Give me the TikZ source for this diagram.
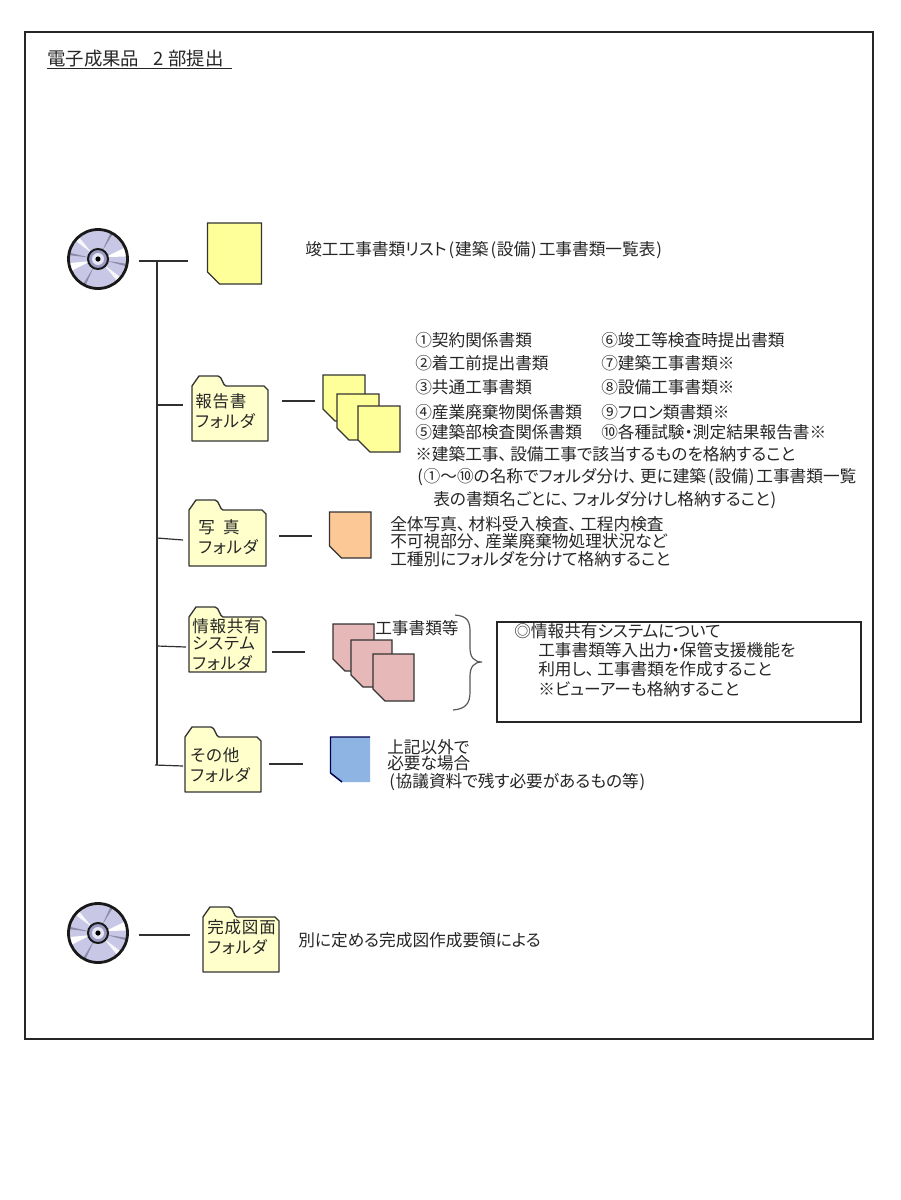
\documentclass[tikz,border=0pt]{standalone}
\usepackage{fontspec}
\setmainfont{Noto Sans CJK JP}[RawFeature=+palt]
\definecolor{docyellow}{HTML}{FFFF99}
\definecolor{folderyellow}{HTML}{FFFFCC}
\definecolor{docorange}{HTML}{FCC896}
\definecolor{docpink}{HTML}{E6B9B8}
\definecolor{docblue}{HTML}{8EB4E3}
\definecolor{discfill}{HTML}{C8C8E6}
\definecolor{hubfill}{HTML}{9C9CC4}
\definecolor{wedgegray}{HTML}{8C8CA8}
\definecolor{linegray}{HTML}{303030}
\newcommand{\tc}{、\hspace{0.2em}}
\newcommand{\lp}{\hspace{0.12em}(\hspace{0.05em}}
\newcommand{\rp}{\hspace{0.05em})\hspace{0.12em}}
\tikzset{
  x=0.75pt,y=-0.75pt,
  conn/.style={draw=linegray,line width=0.9pt},
  docshape/.style={draw=black!80,line width=1pt},
  lbl/.style={inner sep=0pt,anchor=west,font=\fontsize{12.5}{14}\selectfont,text=black!85},
  ftext/.style={inner sep=0pt,anchor=west,font=\fontsize{12.4}{14}\selectfont\addfontfeature{LetterSpace=5},text=black!85},
}
% \docsheet{name}{x0}{y0}{x1}{y1}{colour}
\newcommand{\docsheet}[6]{%
  \draw[docshape,fill=#6] (#2,#3) -- (#4,#3) -- (#4,#5) -- (#2+12,#5) -- (#2,#5-12) -- cycle;
  \coordinate (#1) at ({(#2+#4)/2},{(#3+#5)/2});
}
% \folderbox{name}{x0}{top}{x1}{bottom}
\newcommand{\folderbox}[5]{%
  \draw[docshape,fill=folderyellow,line join=round] (#2,#5) -- (#2,#3+10) -- (#2+7,#3) -- (#2+26,#3)
    .. controls (#2+30,#3) and (#2+31,#3+10) .. (#2+34,#3+10) -- (#4-4,#3+10) -- (#4,#3+14) -- (#4,#5) -- cycle;
  \coordinate (#1) at ({(#2+#4)/2},{(#3+#5)/2});
}
% one tapered wedge of the disc: {angle}{cx}{cy}{colour}{half width}
\newcommand{\discwedge}[5]{%
  \fill[#4] (#2,#3) +({#1-#5*0.3}:10*0.75pt) -- +({#1+#5*0.3}:10*0.75pt)
     -- +({#1+#5}:29.5*0.75pt) -- +({#1-#5}:29.5*0.75pt) -- cycle;
}
% \discicon{name}{cx}{cy}
\newcommand{\discicon}[3]{%
  \fill[discfill] (#2,#3) circle[radius=30*0.75pt];
  \discwedge{14}{#2}{#3}{white}{9}
  \discwedge{196}{#2}{#3}{white}{8}
  \discwedge{136}{#2}{#3}{white!85!discfill}{5}
  \discwedge{-44}{#2}{#3}{white!85!discfill}{5}
  \discwedge{62}{#2}{#3}{wedgegray}{2.5}
  \discwedge{170}{#2}{#3}{wedgegray}{2.5}
  \discwedge{-12}{#2}{#3}{wedgegray}{2.5}
  \discwedge{-118}{#2}{#3}{wedgegray}{2.5}
  \node[circle,draw=black!90,line width=2.1pt,minimum size=59*0.75pt,inner sep=0pt] (#1) at (#2,#3) {};
  \draw[black!90,line width=1.5pt,fill=hubfill] (#2,#3) circle[radius=10*0.75pt];
  \fill[white!55!discfill] (#2,#3) circle[radius=6*0.75pt];
  \fill[black] (#2,#3) circle[radius=2.6*0.75pt];
}
\begin{document}
\begin{tikzpicture}
\useasboundingbox (0,0) rectangle (900,1200);
\fill[white] (0,0) rectangle (900,1200);
\draw[black!85,line width=0.9pt] (25,32) rectangle (873,1039);

% title
\node[lbl,font=\fontsize{13.8}{15}\selectfont] (title) at (47,59) {電子成果品};
\node[lbl,font=\fontsize{13.8}{15}\selectfont] (titleB) at (153,59) {2};
\node[lbl,font=\fontsize{13.8}{15}\selectfont] (titleC) at (168,59) {部提出};
\draw[black!85,line width=1pt] (47,68.5) -- (232,68.5);

% discs
\discicon{discA}{98}{259}
\discicon{discB}{98}{933}

% documents
\docsheet{docList}{207.5}{223}{261.5}{284}{docyellow}
\docsheet{docRepA}{323}{375}{365}{421}{docyellow}
\docsheet{docRepB}{337}{394}{379}{440}{docyellow}
\docsheet{docRepC}{358}{406}{400}{452}{docyellow}
\docsheet{docPhoto}{329.5}{512}{371}{558}{docorange}
\docsheet{docInfoA}{333}{624}{374}{671}{docpink}
\docsheet{docInfoB}{351}{640}{392}{687}{docpink}
\docsheet{docInfoC}{373}{654}{414}{701}{docpink}
% blue sheet: only the left and top edges are dark
\fill[docblue] (330.5,737) -- (370,737) -- (370,782) -- (342,782) -- (330.5,773) -- cycle;
\draw[black!70!blue,line width=1.1pt] (370,737) -- (330.5,737) -- (330.5,773) -- (342,782);
\coordinate (docOther) at (350,760);

% folders
\folderbox{fldReport}{192}{376}{268}{441}
\folderbox{fldPhoto}{189}{500}{266}{566}
\folderbox{fldInfo}{189}{607}{266}{672}
\folderbox{fldOther}{185}{727}{261}{792}
\folderbox{fldDraw}{203}{907}{279}{972}

% folder labels
\node[ftext] (tReportA) at (195,401) {報告書};
\node[ftext] (tReportB) at (195,421) {フォルダ};
\node[ftext] (tPhotoA) at (198,527) {写\hspace{0.5em}真};
\node[ftext] (tPhotoB) at (198,547) {フォルダ};
\node[ftext] (tInfoA) at (192,626) {情報共有};
\node[ftext] (tInfoB) at (192,644) {システム};
\node[ftext] (tInfoC) at (192,663) {フォルダ};
\node[ftext] (tOtherA) at (190,755) {その他};
\node[ftext] (tOtherB) at (190,775) {フォルダ};
\node[ftext] (tDrawA) at (207,927) {完成図面};
\node[ftext] (tDrawB) at (207,947) {フォルダ};

% tree connectors
\coordinate (jA) at (157,261);
\coordinate (jB) at (157,405);
\coordinate (jC) at (157,538);
\coordinate (jD) at (157,646);
\coordinate (jE) at (157,765);
\coordinate (jEl) at (155,765);
\coordinate (endList) at (188,261);
\coordinate (endReport) at (183,405);
\coordinate (endPhoto) at (183,540);
\coordinate (endInfo) at (186,647);
\coordinate (endOther) at (183,766);
\draw[conn] (discA.east) ++(10,2) -- (endList);
\draw[conn] (jA) -- (jE);
\draw[conn] (jB) -- (endReport);
\draw[conn] (jC) -- (endPhoto);
\draw[conn] (jD) -- (endInfo);
\draw[conn] (jEl) -- (endOther);

\coordinate (sReport) at (282,401);
\coordinate (eReport) at (315,401);
\coordinate (sPhoto) at (279,536);
\coordinate (ePhoto) at (312,536);
\coordinate (sInfo) at (272,652);
\coordinate (eInfo) at (305,652);
\coordinate (sOther) at (269,764);
\coordinate (eOther) at (303,764);
\coordinate (eDraw) at (190,935);
\draw[conn] (sReport) -- (eReport);
\draw[conn] (sPhoto) -- (ePhoto);
\draw[conn] (sInfo) -- (eInfo);
\draw[conn] (sOther) -- (eOther);
\draw[conn] (discB.east) ++(10,2) -- (eDraw);

% descriptions
\node[lbl] (tList) at (305,250) {竣工工事書類リスト\lp 建築\lp 設備\rp 工事書類一覧表\rp};

\node[lbl] (r1) at (415,340) {①契約関係書類};
\node[lbl] (r2) at (415,363) {②着工前提出書類};
\node[lbl] (r3) at (415,387) {③共通工事書類};
\node[lbl] (r4) at (415,412) {④産業廃棄物関係書類};
\node[lbl] (r5) at (415,432) {⑤建築部検査関係書類};
\node[lbl] (r6) at (601,340) {⑥竣工等検査時提出書類};
\node[lbl] (r7) at (601,363) {⑦建築工事書類※};
\node[lbl] (r8) at (601,387) {⑧設備工事書類※};
\node[lbl] (r9) at (601,412) {⑨フロン類書類※};
\node[lbl] (r10) at (601,432) {⑩各種試験・測定結果報告書※};
\node[lbl] (n1) at (415,454) {※建築工事\tc 設備工事で該当するものを格納すること};
\node[lbl] (n2) at (415,477) {\lp ①〜⑩の名称でフォルダ分け\tc 更に建築\lp 設備\rp 工事書類一覧};
\node[lbl] (n3) at (433,500) {表の書類名ごとに\tc フォルダ分けし格納すること\rp};

\node[lbl] (p1) at (390,524) {全体写真\tc 材料受入検査\tc 工程内検査};
\node[lbl] (p2) at (390,541) {不可視部分\tc 産業廃棄物処理状況など};
\node[lbl] (p3) at (390,559) {工種別にフォルダを分けて格納すること};

\node[lbl] (iLabel) at (375,628) {工事書類等};
\draw[black!65,line width=0.9pt] (455,615) .. controls (468,616) and (470,622) .. (470,632)
  -- (470,648) .. controls (470,657) and (474,662) .. (482,662)
  .. controls (474,662) and (470,667) .. (470,676)
  -- (470,692) .. controls (470,703) and (466,709) .. (453,710);

\node[draw=black!85,line width=0.9pt,minimum width=364*0.75pt,minimum height=100*0.75pt,inner sep=0pt] (infoBox) at (679,672) {};
\node[lbl] (b1) at (514,631) {◎情報共有システムについて};
\node[lbl] (b2) at (538,650) {工事書類等入出力・保管支援機能を};
\node[lbl] (b3) at (538,669) {利用し\tc 工事書類を作成すること};
\node[lbl] (b4) at (538,689) {※ビューアーも格納すること};

\node[lbl] (o1) at (387,747) {上記以外で};
\node[lbl] (o2) at (387,763) {必要な場合};
\node[lbl] (o3) at (387,782) {\lp 協議資料で残す必要があるもの等\rp};

\node[lbl] (dNote) at (298,940) {別に定める完成図作成要領による};
\end{tikzpicture}
\end{document}
